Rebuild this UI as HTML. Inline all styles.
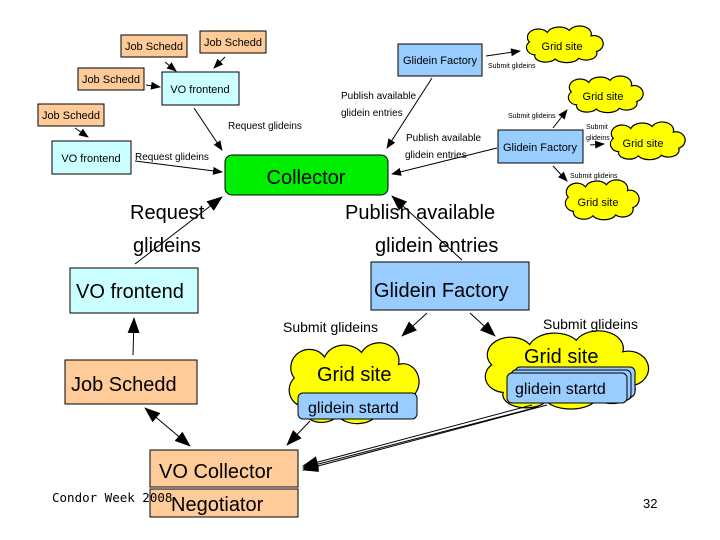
<!DOCTYPE html>
<html><head><meta charset="utf-8"><style>
html,body{margin:0;padding:0;background:#fff;}
svg{display:block;font-family:"Liberation Sans",sans-serif;}
</style></head><body>
<svg width="720" height="540" viewBox="0 0 720 540" xmlns="http://www.w3.org/2000/svg">
<defs>
<marker id="a" markerWidth="10" markerHeight="8" refX="9" refY="4" orient="auto" markerUnits="userSpaceOnUse"><path d="M0,0 L10,4 L0,8 Z" fill="#000"/></marker>
<marker id="A" markerWidth="16" markerHeight="12" refX="15" refY="6" orient="auto" markerUnits="userSpaceOnUse"><path d="M0,0 L16,6 L0,12 Z" fill="#000"/></marker>
<marker id="As" markerWidth="16" markerHeight="12" refX="1" refY="6" orient="auto" markerUnits="userSpaceOnUse"><path d="M16,0 L0,6 L16,12 Z" fill="#000"/></marker>
<path id="cs" d="M14,41 A12,11 0 0 1 7,22 A14,12 0 0 1 30,8 A16,12 0 0 1 58,5 A15,12 0 0 1 86,13 A12,12 0 0 1 93,36 A14,10 0 0 1 70,46 A16,9 0 0 1 40,47 A14,9 0 0 1 14,41 Z" fill="#ffff00" stroke="#000" stroke-width="1.2" vector-effect="non-scaling-stroke"/>
</defs>
<g transform="translate(524,27) scale(0.78,0.68)"><use href="#cs"/></g>
<g transform="translate(566,77) scale(0.76,0.68)"><use href="#cs"/></g>
<g transform="translate(608,123) scale(0.76,0.7)"><use href="#cs"/></g>
<g transform="translate(563,181) scale(0.75,0.74)"><use href="#cs"/></g>
<g transform="translate(285,345) scale(1.32,1.5)"><use href="#cs"/></g>
<g transform="translate(480,333) scale(1.66,1.45)"><use href="#cs"/></g>
<g font-size="11" text-anchor="middle">
<text x="562" y="50">Grid site</text><text x="603" y="100">Grid site</text><text x="643" y="147">Grid site</text><text x="598" y="206">Grid site</text>
</g>
<g stroke="#000" stroke-width="1">
<rect x="121" y="35" width="66" height="22" fill="#ffcc99"/>
<rect x="200" y="31" width="66" height="22" fill="#ffcc99"/>
<rect x="78" y="68" width="66" height="22" fill="#ffcc99"/>
<rect x="38" y="104" width="66" height="22" fill="#ffcc99"/>
<rect x="162" y="72" width="77" height="33" fill="#ccffff"/>
<rect x="52" y="141" width="79" height="33" fill="#ccffff"/>
<rect x="225" y="155" width="163" height="40" rx="7" fill="#00ee00"/>
<rect x="398" y="44" width="84" height="32" fill="#99ccff"/>
<rect x="498" y="130" width="85" height="33" fill="#99ccff"/>
<rect x="70" y="268" width="128" height="45" fill="#ccffff"/>
<rect x="371" y="262" width="158" height="48" fill="#99ccff"/>
<rect x="65" y="360" width="132" height="44" fill="#ffcc99"/>
<rect x="150" y="450" width="148" height="37" fill="#ffcc99"/>
<rect x="150" y="489" width="148" height="28" fill="#ffcc99"/>
<rect x="298" y="393" width="119" height="26" rx="5" fill="#99ccff"/>
<rect x="515" y="367" width="120" height="30" rx="5" fill="#99ccff"/>
<rect x="511" y="370" width="120" height="30" rx="5" fill="#99ccff"/>
<rect x="507" y="373" width="120" height="30" rx="5" fill="#99ccff"/>
</g>
<g font-size="11" fill="#000" text-anchor="middle">
<text x="154" y="50">Job Schedd</text><text x="233" y="46">Job Schedd</text><text x="111" y="83">Job Schedd</text><text x="71" y="119">Job Schedd</text>
<text x="200" y="93">VO frontend</text><text x="91" y="162">VO frontend</text>
<text x="440" y="64">Glidein Factory</text><text x="540" y="151">Glidein Factory</text>
</g>
<text x="306" y="184" font-size="20" text-anchor="middle">Collector</text>
<g font-size="20">
<text x="130" y="219">Request</text><text x="133" y="252">glideins</text>
<text x="345" y="219">Publish available</text><text x="375" y="252">glidein entries</text>
<text x="76" y="298">VO frontend</text><text x="374" y="297">Glidein Factory</text>
<text x="71" y="391">Job Schedd</text>
<text x="317" y="381">Grid site</text><text x="524" y="363">Grid site</text>
<text x="159" y="478">VO Collector</text><text x="171" y="511">Negotiator</text>
</g>
<g font-size="16">
<text x="308" y="413">glidein startd</text><text x="515" y="394">glidein startd</text>
</g>
<g font-size="14"><text x="283" y="332">Submit glideins</text><text x="543" y="329">Submit glideins</text></g>
<g font-size="10">
<text x="228" y="129">Request glideins</text><text x="135" y="160">Request glideins</text>
<text x="341" y="99">Publish available</text><text x="341" y="116">glidein entries</text>
<text x="406" y="141">Publish available</text><text x="405" y="158">glidein entries</text>
</g>
<g font-size="7"><text x="488" y="68">Submit glideins</text><text x="508" y="118">Submit glideins</text><text x="586" y="129">Submit</text><text x="586" y="140">glideins</text><text x="570" y="178">Submit glideins</text></g>
<text x="52" y="502" font-size="12.5" font-family="'DejaVu Sans Mono',monospace">Condor Week 2008</text>
<text x="643" y="508" font-size="13">32</text>
<g stroke="#000" stroke-width="1" fill="none">
<line x1="165" y1="62" x2="176" y2="71" marker-end="url(#a)"/>
<line x1="225" y1="57" x2="214" y2="68" marker-end="url(#a)"/>
<line x1="146" y1="85" x2="160" y2="87" marker-end="url(#a)"/>
<line x1="75" y1="128" x2="88" y2="137" marker-end="url(#a)"/>
<line x1="194" y1="108" x2="222" y2="150" marker-end="url(#a)"/>
<line x1="135" y1="161" x2="222" y2="172" marker-end="url(#a)"/>
<line x1="432" y1="78" x2="387" y2="148" marker-end="url(#a)"/>
<line x1="497" y1="148" x2="392" y2="174" marker-end="url(#a)"/>
<line x1="486" y1="56" x2="520" y2="51" marker-end="url(#a)"/>
<line x1="553" y1="128" x2="567" y2="110" marker-end="url(#a)"/>
<line x1="590" y1="145" x2="604" y2="144" marker-end="url(#a)"/>
<line x1="553" y1="166" x2="567" y2="181" marker-end="url(#a)"/>
<line x1="135" y1="264" x2="222" y2="197" marker-end="url(#A)"/>
<line x1="462" y1="260" x2="392" y2="196" marker-end="url(#A)"/>
<line x1="133" y1="355" x2="134" y2="318" marker-end="url(#A)"/>
<line x1="427" y1="313" x2="402" y2="336" marker-end="url(#A)"/>
<line x1="470" y1="313" x2="495" y2="336" marker-end="url(#A)"/>
<line x1="145" y1="408" x2="190" y2="446" marker-start="url(#As)" marker-end="url(#A)"/>
<line x1="310" y1="421" x2="287" y2="445" marker-end="url(#A)"/>
<line x1="532" y1="405" x2="303" y2="466" marker-end="url(#A)"/>
<line x1="538" y1="407" x2="303" y2="468" marker-end="url(#A)"/>
<line x1="547" y1="405" x2="303" y2="470" marker-end="url(#A)"/>
</g>
</svg>
</body></html>
